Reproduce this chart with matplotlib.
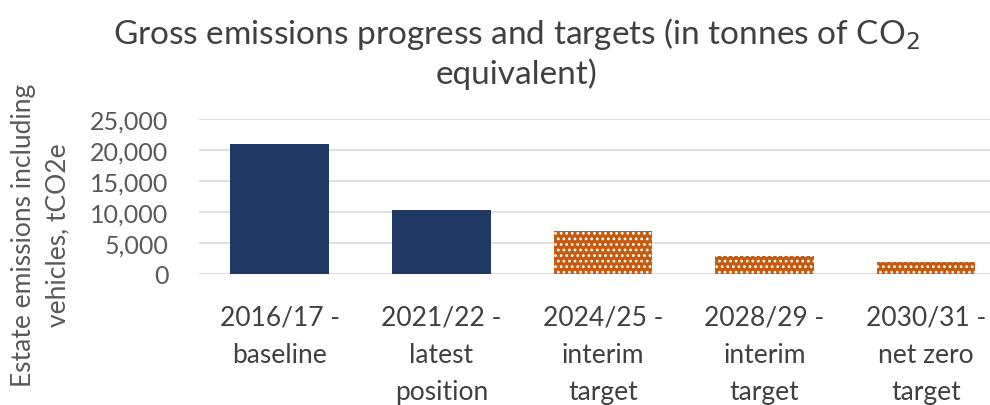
import matplotlib
matplotlib.use("Agg")
from matplotlib import pyplot as plt
from matplotlib.ticker import FuncFormatter

categories = ["2016/17 -\nbaseline", "2021/22 -\nlatest\nposition", "2024/25 -\ninterim\ntarget",
              "2028/29 -\ninterim\ntarget", "2030/31 -\nnet zero\ntarget"]
emissions = [21000, 10300, 6900, 2950, 1900]
is_target = [False, False, True, True, True]
y_ticks = [0, 5000, 10000, 15000, 20000, 25000]

NAVY = "#1F3864"
ORANGE = "#C55A11"
TEXT = "#404040"

plt.rcParams["font.family"] = ["Lato", "DejaVu Sans"]
plt.rcParams["hatch.linewidth"] = 1.2

fig = plt.figure(figsize=(9.9, 4.06), dpi=100)
ax = fig.add_axes([0.201, 0.3227, 0.816, 0.3819])

x = list(range(len(categories)))
colors = [ORANGE if t else NAVY for t in is_target]
ax.bar(x, emissions, width=0.61, color=colors, zorder=2)
# white dot pattern over the target bars
for xi, val, t in zip(x, emissions, is_target):
    if t:
        ax.bar(xi, val, width=0.61, facecolor="none", edgecolor="white",
               hatch="...", linewidth=0, zorder=3)

ax.set_xlim(-0.5, len(categories) - 0.5)
ax.set_ylim(0, 25000)
ax.set_yticks(y_ticks)
ax.yaxis.set_major_formatter(FuncFormatter(lambda v, p: f"{int(v):,}"))
ax.set_xticks(x)
ax.set_xticklabels(categories, fontsize=19, color=TEXT, linespacing=1.6, va="top")
ax.tick_params(axis="y", labelsize=18, labelcolor="#595959", length=0, pad=22)
ax.tick_params(axis="x", length=0, pad=22)
ax.grid(axis="y", color="#D9D9D9", linewidth=1.2, zorder=0)
ax.set_axisbelow(True)
for s in ax.spines.values():
    s.set_visible(False)

fig.text(0.522, 0.96, "Gross emissions progress and targets (in tonnes of CO$_2$\nequivalent)",
         ha="center", va="top", fontsize=24, color=TEXT, linespacing=1.25)
fig.text(0.041, 0.421, "Estate emissions including\nvehicles, tCO2e", rotation=90,
         ha="center", va="center", fontsize=19, color="#595959", linespacing=1.45)

fig.savefig("out.png", dpi=100)
